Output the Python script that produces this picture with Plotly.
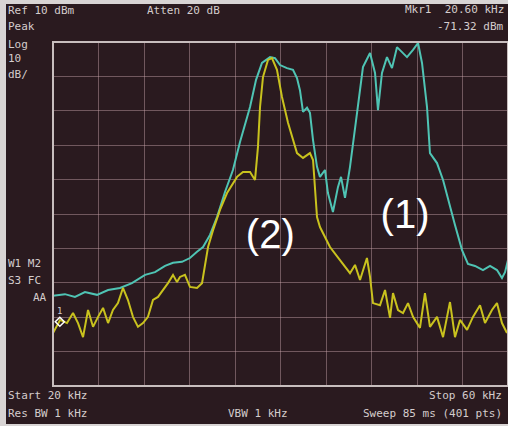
import plotly.graph_objects as go

# Cyan trace (1): frequency (kHz) and level (dBm)
cyan_freq = [20.0, 21.05, 21.93, 22.81, 23.87, 24.84, 25.89, 26.94, 28.09, 28.97, 29.85, 30.55,
             31.34, 32.04, 32.66, 33.19, 33.80, 34.42, 35.12, 35.82, 36.44, 37.32, 37.85, 38.37,
             39.08, 39.52, 39.96, 40.57, 41.10, 41.45, 41.71, 41.98, 42.33, 42.59, 42.86, 43.21,
             43.47, 43.91, 44.17, 44.61, 45.05, 45.32, 45.67, 46.11, 46.73, 47.25, 47.87, 48.31,
             48.57, 48.92, 49.36, 49.80, 50.24, 50.68, 51.12, 51.65, 52.09, 52.44, 52.88, 53.14,
             53.76, 54.29, 54.73, 55.34, 55.96, 56.48, 57.10, 57.80, 58.42, 59.03, 59.47, 59.74, 60.0]
cyan_dbm = [-63.8, -63.3, -64.1, -62.7, -63.5, -62.1, -61.5, -60.1, -57.7, -56.9, -55.1, -54.2,
            -53.9, -52.8, -51.0, -49.6, -46.1, -40.9, -33.6, -27.2, -19.1, -8.9, -1.0, 3.9,
            5.6, 5.3, 3.3, 2.4, 1.9, -0.5, -4.0, -10.3, -9.1, -10.6, -18.5, -26.3,
            -29.2, -27.2, -33.9, -39.4, -32.2, -29.2, -35.3, -26.3, -10.6, 2.7, 6.8, 1.0,
            -9.8, 1.0, 5.6, 2.4, 8.5, 7.1, 5.6, 7.7, 9.7, 3.9, -8.9, -22.3,
            -25.2, -30.1, -35.9, -43.2, -50.5, -54.5, -55.1, -56.3, -55.1, -56.3, -58.6, -56.9, -53.4]

# Yellow trace (2)
yel_freq = [20.0, 20.35, 20.62, 21.23, 21.76, 22.20, 22.64, 23.08, 23.52, 23.96, 24.40, 24.84,
            25.27, 25.71, 26.15, 26.59, 27.03, 27.47, 27.91, 28.35, 28.79, 29.23, 29.67, 30.11,
            30.55, 30.90, 31.16, 31.60, 32.04, 32.66, 33.10, 33.36, 33.63, 34.07, 34.68, 35.30,
            36.18, 36.70, 37.32, 37.76, 38.02, 38.20, 38.46, 38.90, 39.25, 39.69, 40.13, 40.66,
            41.45, 41.98, 42.59, 42.86, 43.03, 43.21, 43.47, 44.35, 45.23, 46.11, 46.55, 46.99,
            47.60, 47.87, 48.13, 48.75, 49.19, 49.63, 49.89, 50.33, 50.77, 51.21, 51.65, 52.26,
            52.70, 53.14, 53.76, 54.29, 54.90, 55.34, 55.78, 56.40, 56.92, 57.54, 57.98, 58.59,
            59.03, 59.47, 59.91]
yel_dbm = [-74.6, -72.3, -70.8, -71.7, -68.8, -71.7, -75.8, -67.9, -72.8, -69.9, -67.3, -71.7,
           -67.9, -65.9, -61.5, -65.0, -69.9, -72.8, -71.7, -69.9, -65.0, -64.1, -62.1, -60.1,
           -57.7, -59.8, -58.3, -57.7, -61.2, -61.5, -60.1, -55.4, -49.6, -44.7, -38.8, -33.9,
           -29.2, -27.8, -27.8, -30.1, -20.5, -8.9, -0.2, 4.8, 5.3, 1.9, -6.0, -13.5,
           -22.3, -23.7, -22.3, -24.3, -33.0, -40.9, -43.8, -49.6, -53.4, -57.2, -54.8, -59.2,
           -52.8, -58.3, -65.9, -66.5, -62.1, -70.2, -63.0, -67.9, -68.8, -65.9, -69.9, -73.1,
           -63.0, -72.8, -69.9, -75.8, -65.6, -75.8, -70.8, -73.7, -69.9, -66.5, -71.7, -67.9,
           -65.9, -71.7, -74.6]

marker_freq = [20.60]
marker_dbm = [-71.32]

label_freq = [39.1, 50.95]
label_dbm = [-47.0, -41.2]
label_text = ["(2)", "(1)"]

TXT = "#d4cccc"
FONT = "DejaVu Sans Mono"

fig = go.Figure()
fig.add_trace(go.Scatter(x=cyan_freq, y=cyan_dbm, mode="lines",
                         line=dict(color="#4fc4b4", width=2), showlegend=False))
fig.add_trace(go.Scatter(x=yel_freq, y=yel_dbm, mode="lines",
                         line=dict(color="#c9c21e", width=2), showlegend=False))
fig.add_trace(go.Scatter(x=marker_freq, y=marker_dbm, mode="markers+text",
                         marker=dict(symbol="diamond-open", color="white", size=7, line=dict(width=1.5)),
                         text=["1"], textposition="top center",
                         textfont=dict(color=TXT, size=9, family=FONT), showlegend=False))
fig.add_trace(go.Scatter(x=label_freq, y=label_dbm, mode="text", text=label_text,
                         textfont=dict(color="white", size=40, family="Liberation Sans"),
                         showlegend=False))

fig.update_xaxes(range=[20, 60], dtick=4, showticklabels=False, showgrid=True,
                 gridcolor="rgba(200,165,170,0.45)", gridwidth=1, zeroline=False, fixedrange=True)
fig.update_yaxes(range=[-90, 10], dtick=10, showticklabels=False, showgrid=True,
                 gridcolor="rgba(200,165,170,0.45)", gridwidth=1, zeroline=False, fixedrange=True)

W = 455.0
H = 344.0
def px(xp):
    return (xp - 53) / W
def py(yp):
    return (386 - yp) / H

shapes = [
    dict(type="rect", xref="paper", yref="paper", x0=px(6), x1=1.0, y0=py(424), y1=py(4),
         fillcolor="#2a1a1f", line=dict(width=0), layer="below"),
    dict(type="rect", xref="x domain", yref="y domain", x0=0, x1=1, y0=0, y1=1,
         line=dict(color="#c8bebe", width=2), layer="above"),
]

def ann(x, y, text, anchor="left"):
    return dict(xref="paper", yref="paper", x=x, y=y, text=text, showarrow=False,
                xanchor=anchor, yanchor="middle",
                font=dict(color=TXT, size=11, family=FONT))

annotations = [
    ann(px(6), py(10), "Ref 10 dBm"),
    ann(px(145), py(10), "Atten 20 dB"),
    ann(px(506), py(9), "Mkr1  20.60 kHz", "right"),
    ann(px(506), py(27), "-71.32 dBm", "right"),
    ann(px(6), py(27), "Peak"),
    ann(px(6), py(44), "Log"),
    ann(px(6), py(59), "10"),
    ann(px(6), py(74), "dB/"),
    ann(px(6), py(263), "W1 M2"),
    ann(px(6), py(280), "S3 FC"),
    ann(px(31), py(297), "AA"),
    ann(px(6), py(395), "Start 20 kHz"),
    ann(px(504), py(395), "Stop 60 kHz", "right"),
    ann(px(6), py(413), "Res BW 1 kHz"),
    ann(px(226), py(413), "VBW 1 kHz"),
    ann(px(504), py(413), "Sweep 85 ms (401 pts)", "right"),
]

fig.update_layout(
    width=508, height=426,
    margin=dict(l=53, r=0, t=42, b=40),
    paper_bgcolor="#d8d4d4",
    plot_bgcolor="#2a1a1f",
    shapes=shapes,
    annotations=annotations,
)

fig.write_html("out.html", config={"displayModeBar": False},
               post_script="document.body.style.margin='0px';document.body.style.overflow='hidden';")
